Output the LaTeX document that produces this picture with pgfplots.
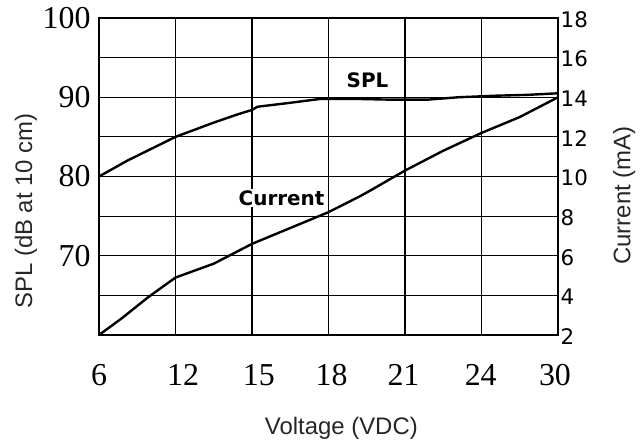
\documentclass[border=0pt]{standalone}
\usepackage{pgfplots}
\pgfplotsset{compat=1.18}
\usepackage{fontspec}
\setmainfont{Liberation Serif}
\newfontfamily\dejavu{DejaVu Sans}
\newfontfamily\arialf{Liberation Sans}
\begin{document}
\begin{tikzpicture}
\begin{axis}[
  scale only axis, width=459bp, height=317bp,
  xmin=0, xmax=6, ymin=60, ymax=100,
  axis line style={line width=1.3bp},
  xtick={0,1.1,2.09,3.04,3.98,4.99,5.96},
  xticklabels={6,12,15,18,21,24,30},
  minor xtick={1,2,3,4,5},
  xminorgrids=true,
  ytick={70,80,90,100},
  yticklabels={70,80,90,100},
  minor ytick={65,75,85,95},
  ymajorgrids=true, yminorgrids=true,
  major tick length=0pt, minor tick length=0pt,
  grid style={black, line width=1.1bp},
  minor grid style={black, line width=1.1bp},
  tick label style={font=\fontsize{32}{32}\selectfont},
  xticklabel style={yshift=-26bp},
  yticklabel style={xshift=-5bp},
  /pgf/number format/assume math mode=true,
  clip=false,
]
\addplot[black, line width=2.4bp, line join=round] coordinates {
(0,80.0) (0.37,82.0) (1,85.0) (1.5,86.8) (1.8,87.8) (2,88.4) (2.07,88.8)
(2.5,89.3) (2.9,89.8) (3.3,89.8) (3.8,89.7) (4.3,89.7) (4.7,90.0)
(5.2,90.2) (5.6,90.3) (6,90.5)};
\node[rotate=90, font=\arialf\fontsize{24}{24}\selectfont, text=black!85] at (axis description cs:-0.159,0.391) {SPL (dB at 10 cm)};
\node[rotate=90, font=\arialf\fontsize{24}{24}\selectfont, text=black!85] at (axis description cs:1.144,0.44) {Current (mA)};
\node[font=\arialf\fontsize{24}{24}\selectfont, text=black!85] at (axis description cs:0.528,-0.293) {Voltage (VDC)};
\end{axis}
\begin{axis}[
  scale only axis, width=459bp, height=317bp,
  xmin=0, xmax=6, ymin=2, ymax=18,
  axis x line=none, axis y line*=right,
  axis line style={line width=1.3bp},
  ytick={2,4,6,8,10,12,14,16,18},
  yticklabels={2,4,6,8,10,12,14,16,18},
  major tick length=0pt,
  yticklabel style={font=\dejavu\fontsize{21.5}{21.5}\selectfont, inner sep=2.5bp, yshift=-1.5bp},
  clip=false,
]
\addplot[black, line width=2.4bp, line join=round] coordinates {
(0,2.0) (0.3,2.85) (0.64,3.9) (1,4.9) (1.5,5.6) (2,6.6) (2.5,7.4) (3,8.2)
(3.41,9.0) (3.55,9.3) (4,10.3) (4.5,11.3) (5,12.2) (5.5,13.0) (6,14.0)};
\node[anchor=base west, fill=white, inner sep=1.5bp, font=\dejavu\bfseries\fontsize{20}{20}\selectfont] at (axis description cs:0.3007,0.41) {Current};
\node[anchor=base west, fill=white, inner sep=1.5bp, font=\dejavu\bfseries\fontsize{20}{20}\selectfont] at (axis description cs:0.536,0.782) {SPL};
\end{axis}
\pgfresetboundingbox
\path[use as bounding box] (-99bp,-108bp) rectangle (541bp,335bp);
\end{tikzpicture}
\end{document}
